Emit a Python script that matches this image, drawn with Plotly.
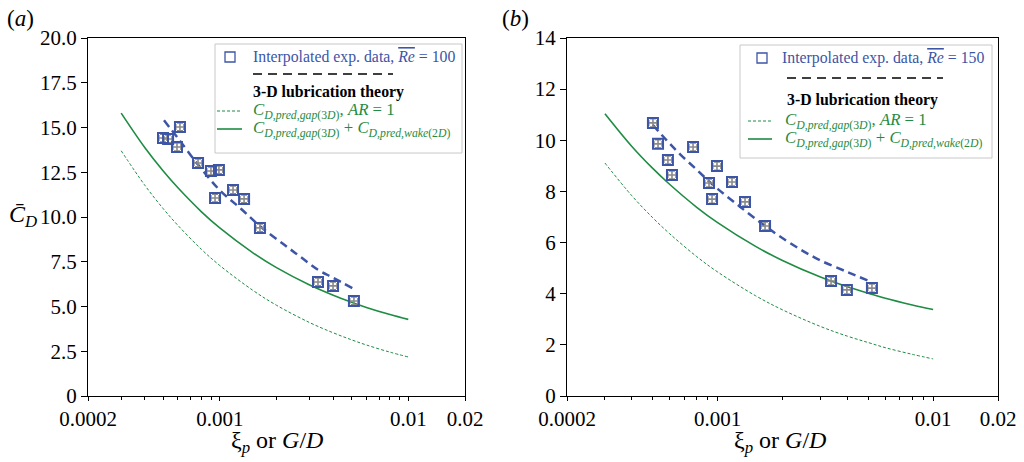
import plotly.graph_objects as go

# ---------------- data ----------------
# Panel (a): Re = 100
xa_exp = [0.000500, 0.000532, 0.000593, 0.000615, 0.000767, 0.000898, 0.000990,
          0.000944, 0.001176, 0.001346, 0.001634, 0.00332, 0.00399, 0.00515]
ya_exp = [14.41, 14.36, 13.91, 15.03, 13.02, 12.57, 12.63,
          11.06, 11.51, 11.01, 9.39, 6.37, 6.15, 5.31]
xa_fit = [0.000506, 0.0006, 0.00077, 0.001, 0.0013, 0.00163, 0.0022, 0.0027, 0.00332, 0.004, 0.0051]
ya_fit = [15.4, 14.4, 12.9, 11.5, 10.45, 9.5, 8.45, 7.75, 7.05, 6.6, 6.0]

# Panel (b): Re = 150
xb_exp = [0.000501, 0.000529, 0.000588, 0.000614, 0.000769, 0.000912, 0.000942,
          0.000993, 0.001166, 0.00134, 0.00166, 0.00336, 0.00398, 0.0052]
yb_exp = [10.68, 9.86, 9.23, 8.64, 9.74, 8.33, 7.70,
          8.99, 8.37, 7.59, 6.65, 4.50, 4.15, 4.22]
xb_fit = [0.0005, 0.00058, 0.00067, 0.0008, 0.00091, 0.001, 0.00127, 0.00166, 0.0019, 0.0024, 0.003, 0.004, 0.0051]
yb_fit = [10.6, 10.0, 9.45, 8.85, 8.4, 8.1, 7.4, 6.65, 6.3, 5.75, 5.3, 4.85, 4.48]

# Lubrication theory curves (shared x)
x_theory = [0.0003, 0.0004, 0.0005, 0.0006, 0.0008, 0.001, 0.0015, 0.002,
            0.003, 0.004, 0.005, 0.006, 0.008, 0.01]
ya_gap = [13.7, 11.78, 10.48, 9.53, 8.19, 7.29, 5.90, 5.07, 4.10, 3.53, 3.14, 2.85, 2.45, 2.18]
ya_tot = [15.8, 13.88, 12.58, 11.63, 10.29, 9.39, 8.00, 7.17, 6.20, 5.63, 5.24, 4.95, 4.55, 4.28]
yb_gap = [9.11, 7.83, 6.97, 6.34, 5.45, 4.85, 3.92, 3.37, 2.72, 2.34, 2.09, 1.89, 1.63, 1.45]
yb_tot = [11.04, 9.76, 8.90, 8.27, 7.38, 6.78, 5.85, 5.30, 4.65, 4.27, 4.02, 3.82, 3.56, 3.38]

# tick labels
x_tickvals = [0.0002, 0.001, 0.01, 0.02]
x_ticktext = ["0.0002", "0.001", "0.01", "0.02"]
x_minor = [0.0003, 0.0004, 0.0005, 0.0006, 0.0007, 0.0008, 0.0009,
           0.002, 0.003, 0.004, 0.005, 0.006, 0.007, 0.008, 0.009]
ya_tickvals = [0, 2.5, 5, 7.5, 10, 12.5, 15, 17.5, 20]
ya_ticktext = ["0", "2.5", "5.0", "7.5", "10.0", "12.5", "15.0", "17.5", "20.0"]
yb_tickvals = [0, 2, 4, 6, 8, 10, 12, 14]
yb_ticktext = ["0", "2", "4", "6", "8", "10", "12", "14"]

# error-bar half sizes (appearance of the crosses inside markers)
err_a = 0.22
err_b = 0.16

# ---------------- style ----------------
FONT = "Liberation Serif, Times New Roman, DejaVu Serif, serif"
BLUE = "#3d55a6"
GREEN = "#1f8c43"
GRAY = "#8a8a8a"

W, H = 1024, 462
def px(x):
    return x / W
def py(y):
    return 1 - y / H

fig = go.Figure()

def add_panel(xexp, yexp, xfit, yfit, ygap, ytot, err, xa, ya, errx_pct):
    fig.add_trace(go.Scatter(x=x_theory, y=ygap, mode="lines", xaxis=xa, yaxis=ya,
                             line=dict(color=GREEN, width=1, dash="3px,2px", shape="spline"),
                             showlegend=False))
    fig.add_trace(go.Scatter(x=x_theory, y=ytot, mode="lines", xaxis=xa, yaxis=ya,
                             line=dict(color=GREEN, width=1.6, shape="spline"), showlegend=False))
    fig.add_trace(go.Scatter(x=xfit, y=yfit, mode="lines", xaxis=xa, yaxis=ya,
                             line=dict(color=BLUE, width=2.5, dash="8px,5px", shape="spline"),
                             showlegend=False))
    fig.add_trace(go.Scatter(x=xexp, y=yexp, mode="markers", xaxis=xa, yaxis=ya,
                             marker=dict(symbol="square-open", size=10, color=BLUE,
                                         line=dict(width=2, color=BLUE)),
                             error_y=dict(type="constant", value=err, color=GRAY, thickness=1.6, width=3),
                             error_x=dict(type="percent", value=errx_pct, color=GRAY, thickness=1.6, width=3),
                             showlegend=False))

add_panel(xa_exp, ya_exp, xa_fit, ya_fit, ya_gap, ya_tot, err_a, "x", "y", 5.0)
add_panel(xb_exp, yb_exp, xb_fit, yb_fit, yb_gap, yb_tot, err_b, "x2", "y2", 4.4)

axis_common = dict(showline=True, linecolor="black", linewidth=1.2, mirror=True,
                   ticks="outside", tickcolor="black", showgrid=False, zeroline=False,
                   automargin=False,
                   tickfont=dict(family=FONT, size=21, color="black"))

xaxis_common = dict(axis_common, type="log",
                    range=[-3.69897, -1.69897],
                    tickmode="array", tickvals=x_tickvals, ticktext=x_ticktext,
                    ticklen=4, tickwidth=1.2,
                    minor=dict(tickvals=x_minor, ticks="outside", ticklen=3,
                               tickcolor="black", tickwidth=1))

fig.update_layout(
    width=W, height=H, autosize=False,
    margin=dict(l=0, r=0, t=0, b=0, pad=0, autoexpand=False),
    paper_bgcolor="white", plot_bgcolor="white",
    font=dict(family=FONT, color="black"),
    xaxis=dict(xaxis_common, domain=[px(88), px(465)], anchor="y"),
    xaxis2=dict(xaxis_common, domain=[px(567), px(998)], anchor="y2"),
    yaxis=dict(axis_common, domain=[py(396), py(38)], range=[0, 20], anchor="x",
               tickmode="array", tickvals=ya_tickvals, ticktext=ya_ticktext,
               ticklen=6, tickwidth=1.2),
    yaxis2=dict(axis_common, domain=[py(396), py(38)], range=[0, 14], anchor="x2",
                tickmode="array", tickvals=yb_tickvals, ticktext=yb_ticktext,
                ticklen=6, tickwidth=1.2),
)

ann = []
shapes = []

def text(x, y, s, size=15, color="black", xanchor="left"):
    ann.append(dict(x=px(x), y=py(y), xref="paper", yref="paper", text=s, showarrow=False,
                    xanchor=xanchor, yanchor="middle",
                    font=dict(family=FONT, size=size, color=color)))

# panel labels
text(20, 18, "(<i>a</i>)", size=23, xanchor="center")
text(515, 18, "(<i>b</i>)", size=23, xanchor="center")
# axis titles
xt = "ξ<sub><i>p</i></sub> or <i>G</i>/<i>D</i>"
text(277, 442, xt, size=24, xanchor="center")
text(780, 442, xt, size=24, xanchor="center")
text(23, 216, "<i>C̄</i><sub><i>D</i></sub>", size=24, xanchor="center")

def legend(box, sq, tx1, dash_y, dash_x, bold_y, bold_x, row3_y, row4_y, line_x, tx3, re):
    x0, y0, x1, y1 = box
    shapes.append(dict(type="rect", xref="paper", yref="paper",
                       x0=px(x0), x1=px(x1), y0=py(y1), y1=py(y0),
                       line=dict(color="#c8c8c8", width=1), fillcolor="white", layer="above"))
    sx, sy = sq
    shapes.append(dict(type="rect", xref="paper", yref="paper",
                       x0=px(sx - 5), x1=px(sx + 5), y0=py(sy + 5), y1=py(sy - 5),
                       line=dict(color=BLUE, width=1.3), layer="above"))
    text(tx1, sy, "Interpolated exp. data, <span style=\"text-decoration:overline\"><i>Re</i></span> = " + re,
         color=BLUE, size=15.8)
    shapes.append(dict(type="line", xref="paper", yref="paper",
                       x0=px(dash_x[0]), x1=px(dash_x[1]), y0=py(dash_y), y1=py(dash_y),
                       line=dict(color="black", width=1.3, dash="9px,6px"), layer="above"))
    text(bold_x, bold_y, "<b>3-D lubrication theory</b>", size=15.8)
    shapes.append(dict(type="line", xref="paper", yref="paper",
                       x0=px(line_x[0]), x1=px(line_x[1]), y0=py(row3_y), y1=py(row3_y),
                       line=dict(color=GREEN, width=1, dash="3px,2px"), layer="above"))
    shapes.append(dict(type="line", xref="paper", yref="paper",
                       x0=px(line_x[0]), x1=px(line_x[1]), y0=py(row4_y), y1=py(row4_y),
                       line=dict(color=GREEN, width=1.6), layer="above"))
    text(tx3, row3_y, "<i>C</i><sub><i>D,pred,gap</i>(3<i>D</i>)</sub>, <i>AR</i> = 1", color=GREEN, size=16.8)
    text(tx3, row4_y, "<i>C</i><sub><i>D,pred,gap</i>(3<i>D</i>)</sub> + "
                      "<i>C</i><sub><i>D,pred,wake</i>(2<i>D</i>)</sub>", color=GREEN, size=16.8)

legend((215, 44, 462, 153), (230, 57), 251, 74, (253, 393), 92, 251, 111, 129, (217, 242), 251, "100")
legend((740, 45, 992, 158), (762, 58), 780, 78, (787, 943), 100, 785, 121, 139, (748, 772), 783, "150")

fig.update_layout(annotations=ann, shapes=shapes)
fig.write_html("out.html")
